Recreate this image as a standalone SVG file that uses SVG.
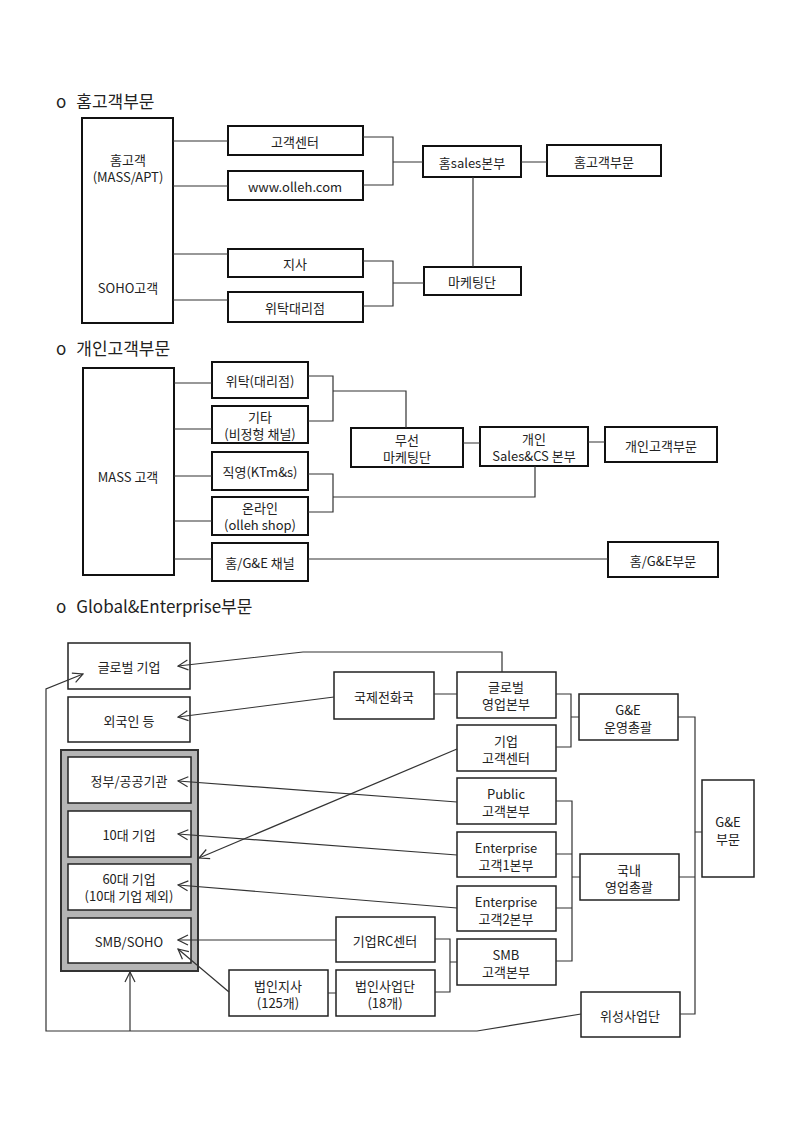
<svg xmlns="http://www.w3.org/2000/svg" width="800" height="1131" viewBox="0 0 800 1131">
<defs>
<style>
text{font-family:"Noto Sans CJK KR","Noto Sans",sans-serif;font-size:13px;fill:#222;text-anchor:middle;dominant-baseline:central}
.title{font-size:17px;text-anchor:start}
.b{fill:#fff;stroke:#111;stroke-width:2}
.bt{fill:#fff;stroke:#222;stroke-width:1.5}
.c{fill:none;stroke:#333;stroke-width:1.2}
.a{fill:none;stroke:#333;stroke-width:1.2;marker-end:url(#arr)}
</style>
<marker id="arr" viewBox="0 0 12 12" refX="11" refY="6" markerWidth="12" markerHeight="12" markerUnits="userSpaceOnUse" orient="auto">
<path d="M1,1 L11,6 L1,11" fill="none" stroke="#333" stroke-width="1.2"/>
</marker>
</defs>
<rect width="800" height="1131" fill="#fff"/>

<!-- Section 1 -->
<text class="title" x="56" y="100">o<tspan dx="10">홈고객부문</tspan></text>
<g id="home-cust"><rect class="b" x="82" y="118" width="91" height="205"/><text x="128" y="159">홈고객</text><text x="128" y="176">(MASS/APT)</text><text x="128" y="287">SOHO고객</text></g>
<g id="cc"><rect class="b" x="228" y="126" width="135" height="29"/><text x="295" y="141">고객센터</text></g>
<g id="www"><rect class="b" x="228" y="171" width="135" height="29"/><text x="295" y="186">www.olleh.com</text></g>
<g id="jisa"><rect class="b" x="228" y="249" width="135" height="28"/><text x="295" y="263">지사</text></g>
<g id="agency"><rect class="b" x="228" y="292" width="135" height="30"/><text x="295" y="307">위탁대리점</text></g>
<g id="homesales"><rect class="b" x="423" y="146" width="98" height="31"/><text x="472" y="162">홈sales본부</text></g>
<g id="homediv"><rect class="b" x="547" y="145" width="114" height="31"/><text x="604" y="161">홈고객부문</text></g>
<g id="mkt"><rect class="b" x="424" y="267" width="97" height="28"/><text x="472" y="281">마케팅단</text></g>

<!-- Section 2 -->
<text class="title" x="56" y="347">o<tspan dx="10">개인고객부문</tspan></text>
<g id="mass"><rect class="b" x="83" y="368" width="91" height="207"/><text x="128" y="476">MASS 고객</text></g>
<g id="wt"><rect class="b" x="212" y="362" width="96" height="36"/><text x="260" y="380">위탁(대리점)</text></g>
<g id="etc"><rect class="b" x="212" y="406" width="96" height="37"/><text x="260" y="416">기타</text><text x="260" y="433">(비정형 채널)</text></g>
<g id="direct"><rect class="b" x="212" y="452" width="96" height="38"/><text x="260" y="471">직영(KTm&amp;s)</text></g>
<g id="online"><rect class="b" x="212" y="497" width="96" height="38"/><text x="260" y="507">온라인</text><text x="260" y="524">(olleh shop)</text></g>
<g id="homege"><rect class="b" x="212" y="543" width="96" height="38"/><text x="260" y="562">홈/G&amp;E 채널</text></g>
<g id="wireless"><rect class="b" x="351" y="428" width="112" height="39"/><text x="407" y="439">무선</text><text x="407" y="456">마케팅단</text></g>
<g id="personal"><rect class="b" x="480" y="427" width="108" height="39"/><text x="534" y="438">개인</text><text x="534" y="455">Sales&amp;CS 본부</text></g>
<g id="persdiv"><rect class="b" x="605" y="427" width="112" height="35"/><text x="661" y="445">개인고객부문</text></g>
<g id="homegediv"><rect class="b" x="608" y="542" width="110" height="35"/><text x="663" y="560">홈/G&amp;E부문</text></g>

<!-- Section 3 -->
<text class="title" x="56" y="605">o<tspan dx="10">Global&amp;Enterprise부문</tspan></text>
<g id="global"><rect class="bt" x="68" y="643" width="122" height="46"/><text x="129" y="666">글로벌 기업</text></g>
<g id="foreign"><rect class="bt" x="68" y="697" width="122" height="45"/><text x="129" y="720">외국인 등</text></g>
<g id="frame"><rect x="61" y="750" width="137" height="221" fill="#b5b5b5" stroke="#333" stroke-width="2"/>
<rect class="bt" x="68" y="757" width="123" height="46"/><text x="129" y="780">정부/공공기관</text>
<rect class="bt" x="68" y="811" width="123" height="46"/><text x="129" y="834">10대 기업</text>
<rect class="bt" x="68" y="864" width="123" height="46"/><text x="129" y="878">60대 기업</text><text x="129" y="895">(10대 기업 제외)</text>
<rect class="bt" x="68" y="918" width="123" height="45"/><text x="129" y="941">SMB/SOHO</text></g>
<g id="intl"><rect class="bt" x="334" y="672" width="100" height="47"/><text x="384" y="696">국제전화국</text></g>
<g id="glsales"><rect class="bt" x="457" y="672" width="99" height="46"/><text x="506" y="686">글로벌</text><text x="506" y="703">영업본부</text></g>
<g id="corpcc"><rect class="bt" x="457" y="725" width="99" height="46"/><text x="506" y="740">기업</text><text x="506" y="757">고객센터</text></g>
<g id="geops"><rect class="bt" x="579" y="694" width="99" height="46"/><text x="628" y="709">G&amp;E</text><text x="628" y="726">운영총괄</text></g>
<g id="public"><rect class="bt" x="457" y="778" width="99" height="46"/><text x="506" y="793">Public</text><text x="506" y="810">고객본부</text></g>
<g id="ent1"><rect class="bt" x="457" y="832" width="99" height="45"/><text x="506" y="847">Enterprise</text><text x="506" y="864">고객1본부</text></g>
<g id="ent2"><rect class="bt" x="457" y="886" width="99" height="45"/><text x="506" y="901">Enterprise</text><text x="506" y="918">고객2본부</text></g>
<g id="smb"><rect class="bt" x="457" y="939" width="99" height="46"/><text x="506" y="954">SMB</text><text x="506" y="971">고객본부</text></g>
<g id="domestic"><rect class="bt" x="580" y="854" width="99" height="46"/><text x="629" y="869">국내</text><text x="629" y="886">영업총괄</text></g>
<g id="gediv"><rect class="bt" x="702" y="780" width="52" height="97"/><text x="728" y="821">G&amp;E</text><text x="728" y="838">부문</text></g>
<g id="rc"><rect class="bt" x="336" y="917" width="99" height="45"/><text x="385" y="940">기업RC센터</text></g>
<g id="corpbr"><rect class="bt" x="229" y="970" width="99" height="46"/><text x="278" y="985">법인지사</text><text x="278" y="1002">(125개)</text></g>
<g id="corpbiz"><rect class="bt" x="336" y="970" width="99" height="46"/><text x="385" y="985">법인사업단</text><text x="385" y="1002">(18개)</text></g>
<g id="sat"><rect class="bt" x="581" y="992" width="99" height="45"/><text x="630" y="1015">위성사업단</text></g>

<g id="connectors">
<!-- section 1 -->
<path class="c" d="M173,141H228M173,186H228M173,254H228M173,300H228"/>
<path class="c" d="M363,137H393V185H363M393,162H423M521,162H547M473,177V267"/>
<path class="c" d="M363,261H393V306H363M393,283H424"/>
<!-- section 2 -->
<path class="c" d="M174,383H212M174,429H212M174,476H212M174,521H212M174,559H212"/>
<path class="c" d="M308,376H333V421H308M333,391H406V428M463,443H480M588,442H605"/>
<path class="c" d="M308,474H333V512H308M333,497H535V466M308,559H608"/>
<!-- section 3 -->
<path class="a" d="M502,672V652H303L178,666"/>
<path class="a" d="M334,697L178,717"/>
<path class="c" d="M434,694H457M556,694H571V747H556M571,717H579M678,717H695V1014H680M679,877H695M695,832H702"/>
<path class="a" d="M457,749L199,858"/>
<path class="a" d="M457,802L178,781"/>
<path class="a" d="M457,855L178,834"/>
<path class="a" d="M457,908L178,885"/>
<path class="c" d="M556,801H572V961H556M556,854H572M556,908H572M572,877H580"/>
<path class="a" d="M336,940H178"/>
<path class="c" d="M435,939H450V992H435M450,962H457M328,993H336"/>
<path class="a" d="M229,992L178,949"/>
<path class="a" d="M581,1014L477,1031H46V689L83,674"/>
<path class="a" d="M130,1031V972"/>
</g>
</svg>
